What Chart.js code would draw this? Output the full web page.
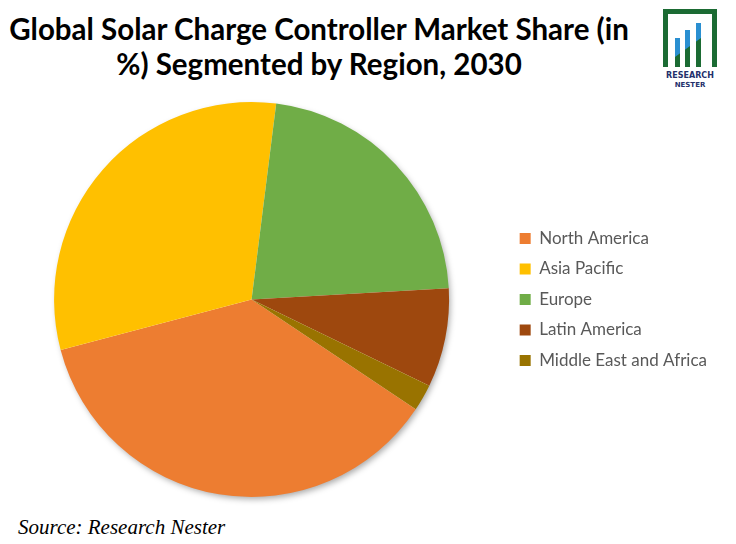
<!DOCTYPE html>
<html>
<head>
<meta charset="utf-8">
<script src="https://cdn.jsdelivr.net/npm/chart.js@4"></script>
<style>
    html, body { margin: 0; padding: 0; background: #fff; overflow: hidden; }
    body { width: 736px; height: 544px; position: relative; font-family: Lato, "Open Sans", sans-serif; }
    #title {
        position: absolute; left: 0; top: 11px; width: 638px;
        text-align: center; font-weight: bold; font-size: 29.5px; line-height: 35px; color: #000;
    }
    #logo { position: absolute; left: 660px; top: 8px; }
    #chartBox { position: absolute; left: -3px; top: 97px; width: 739px; height: 410px; }
    #source {
        position: absolute; left: 18px; top: 515px;
        font-family: "Liberation Serif", "DejaVu Serif", serif; font-style: italic; font-size: 21px; color: #000;
    }
</style>
</head>
<body>
<div id="title">Global Solar Charge Controller Market Share (in<br>%) Segmented by Region, 2030</div>

<svg id="logo" width="60" height="82" viewBox="0 0 60 82">
    <defs>
        <clipPath id="upper"><polygon points="0,0 60,0 60,16 0,60"/></clipPath>
    </defs>
    <path d="M3 59 V1 H57 V59 H52 V6 H8 V59 Z" fill="#1b6b33"/>
    <g fill="#1b6b33">
        <rect x="15" y="30" width="5" height="29"/>
        <rect x="25" y="22" width="5" height="37"/>
        <rect x="36" y="15" width="5" height="44"/>
    </g>
    <g fill="#2a8fd1" clip-path="url(#upper)">
        <rect x="15" y="30" width="5" height="29"/>
        <rect x="25" y="22" width="5" height="37"/>
        <rect x="36" y="15" width="5" height="44"/>
    </g>
    <text x="30" y="70" text-anchor="middle" font-family="DejaVu Sans" font-weight="bold" font-size="8" fill="#24306b">RESEARCH</text>
    <text x="30" y="79" text-anchor="middle" font-family="DejaVu Sans" font-weight="bold" font-size="7" fill="#24306b">NESTER</text>
</svg>

<div id="chartBox"><canvas id="pieChart"></canvas></div>

<div id="source">Source: Research Nester</div>

<script>
    const regions = ['North America', 'Asia Pacific', 'Europe', 'Latin America', 'Middle East and Africa'];
    const shares = [36.5, 31.1, 22.1, 8.1, 2.2];
    const sliceColors = ['#ED7D31', '#FFC000', '#70AD47', '#9E480E', '#997300'];

    // soft shadow under the whole pie, drawn from the arc geometry
    const pieShadow = {
        id: 'pieShadow',
        beforeDatasetsDraw(chart) {
            const arc = chart.getDatasetMeta(0).data[0];
            if (!arc) return;
            const ctx = chart.ctx;
            ctx.save();
            ctx.shadowColor = 'rgba(0,0,0,0.35)';
            ctx.shadowBlur = 6;
            ctx.shadowOffsetX = 2;
            ctx.shadowOffsetY = 3;
            ctx.fillStyle = '#fff';
            ctx.beginPath();
            ctx.arc(arc.x, arc.y, arc.outerRadius - 1, 0, Math.PI * 2);
            ctx.fill();
            ctx.restore();
        }
    };

    new Chart(document.getElementById('pieChart').getContext('2d'), {
        type: 'pie',
        data: {
            labels: regions,
            datasets: [
                {
                    data: shares,
                    backgroundColor: sliceColors,
                    borderWidth: 0,
                },
            ],
        },
        options: {
            responsive: true,
            maintainAspectRatio: false,
            animation: false,
            rotation: 123.8,
            layout: {
                padding: { left: 0, right: 19, top: 5, bottom: 10 },
            },
            plugins: {
                tooltip: { enabled: false },
                legend: {
                    position: 'right',
                    labels: {
                        boxWidth: 11,
                        boxHeight: 11,
                        padding: 13.5,
                        color: '#595959',
                        font: { family: 'Lato', size: 17 },
                    },
                },
            },
        },
        plugins: [pieShadow],
    });
</script>
</body>
</html>
